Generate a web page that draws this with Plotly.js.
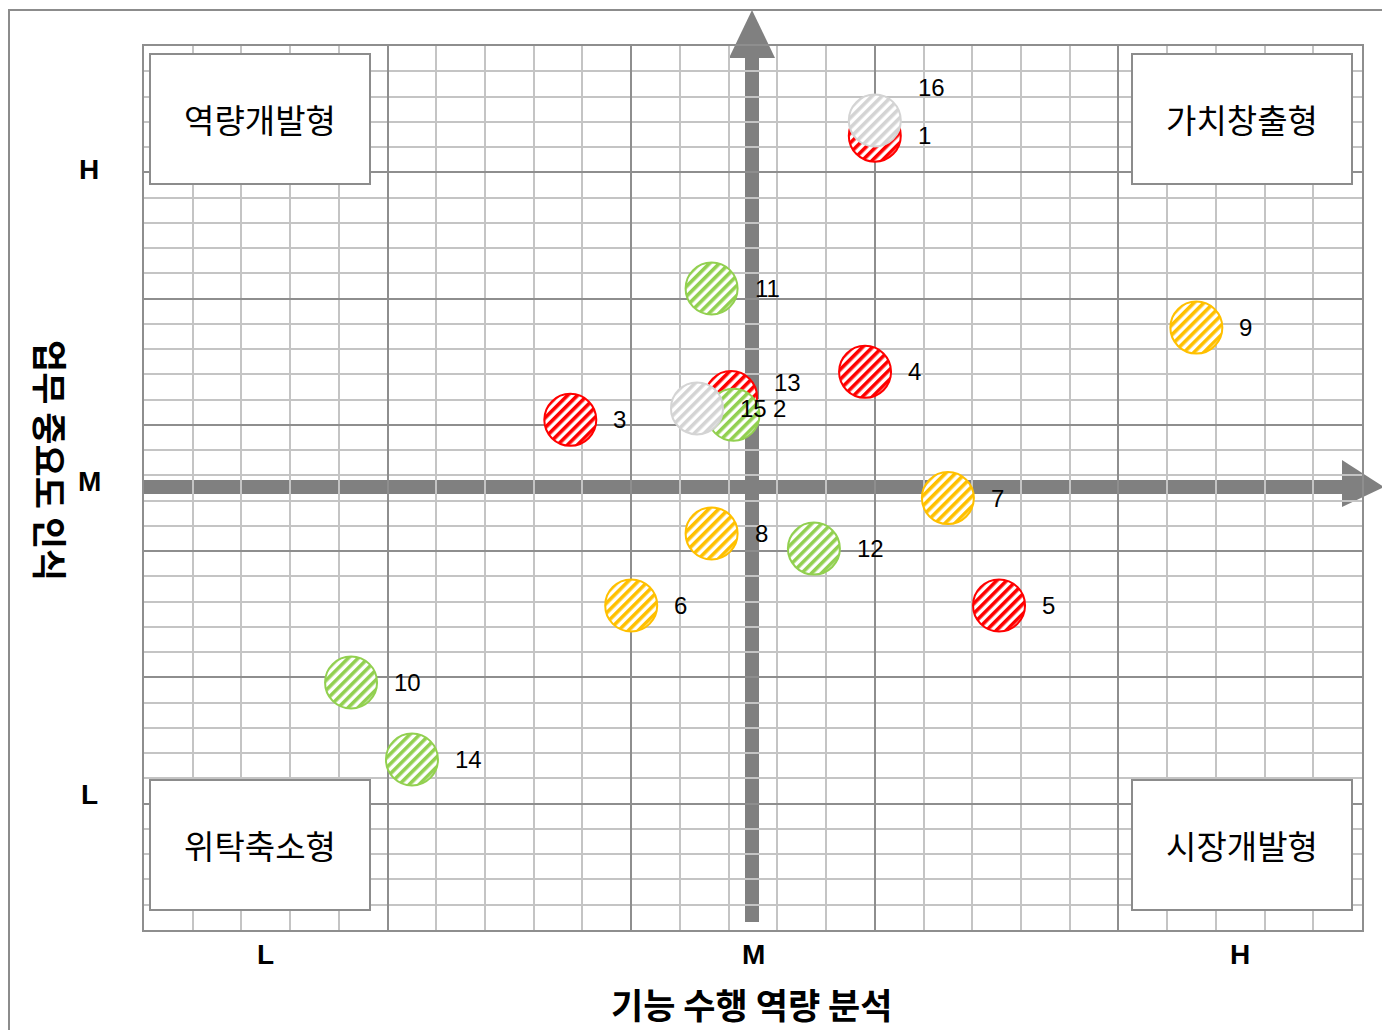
<!DOCTYPE html>
<html>
<head>
<meta charset="utf-8">
<script src="https://cdn.plot.ly/plotly-3.0.1.min.js"></script>
<style>
  html, body { margin: 0; padding: 0; background: #fff; }
  #chart { width: 1382px; height: 1030px; }
</style>
</head>
<body>
<div id="chart"></div>
<script>
// points, grouped by colour (drawn red, green, yellow, grey so grey ends on top)
var redIds = [1, 3, 4, 5, 13];
var redX   = [3.00, 1.75, 2.96, 3.51, 2.41];
var redY   = [6.29, 4.04, 4.42, 2.57, 4.22];

var greenIds = [2, 10, 11, 12, 14];
var greenX   = [2.42, 0.85, 2.33, 2.75, 1.10];
var greenY   = [4.08, 1.96, 5.08, 3.02, 1.35];

var yellowIds = [6, 7, 8, 9];
var yellowX   = [2.00, 3.30, 2.33, 4.32];
var yellowY   = [2.57, 3.42, 3.14, 4.77];

var greyIds = [15, 16];
var greyX   = [2.27, 3.00];
var greyY   = [4.13, 6.41];

// tick labels
var xTickVals = [0.5, 2.5, 4.5];
var xTickText = ['L', 'M', 'H'];
var yTickVals = [1.07, 3.55, 6.02];
var yTickText = ['L', 'M', 'H'];

var quadrantText = ['역량개발형', '가치창출형', '위탁축소형', '시장개발형'];
var xTitle = '기능 수행 역량 분석';
var yTitle = '업무 중요도 인식';

// some labels were nudged in the original to avoid overlaps (px)
var labelLift = {16: 33, 13: 15, 2: 6};
var labelPull = {2: 4};

var series = [
  {ids: redIds, x: redX, y: redY, color: '#FF0000'},
  {ids: greenIds, x: greenX, y: greenY, color: '#92D050'},
  {ids: yellowIds, x: yellowX, y: yellowY, color: '#FFC000'},
  {ids: greyIds, x: greyX, y: greyY, color: '#D4D4D4'}
];

var data = series.map(function(s) {
  return {
    x: s.x, y: s.y, mode: 'markers', type: 'scatter',
    marker: {size: 52, color: s.color, line: {color: s.color, width: 2}},
    hoverinfo: 'skip'
  };
});

// plot area in pixels: x 144..1362, y 46..930
var L = 144, T = 46, W = 1218, H = 884;
function px(x) { return (x - L) / W; }
function py(y) { return (T + H - y) / H; }

var annotations = [];
series.forEach(function(s) {
  s.ids.forEach(function(id, i) {
    annotations.push({
      x: s.x[i], y: s.y[i], xref: 'x', yref: 'y', text: String(id),
      showarrow: false, xanchor: 'left', yanchor: 'middle',
      xshift: 41 - (labelPull[id] || 0), yshift: labelLift[id] || 0,
      font: {family: 'Liberation Sans, Arial, sans-serif', size: 24, color: '#000'}
    });
  });
});

xTickVals.forEach(function(v, i) {
  annotations.push({
    x: v, y: py(955), xref: 'x', yref: 'paper', text: '<b>' + xTickText[i] + '</b>',
    showarrow: false, xanchor: 'center', yanchor: 'middle',
    font: {family: 'Liberation Sans, Arial, sans-serif', size: 28, color: '#000'}
  });
});
yTickVals.forEach(function(v, i) {
  annotations.push({
    x: px(89), y: v, xref: 'paper', yref: 'y', text: '<b>' + yTickText[i] + '</b>',
    showarrow: false, xanchor: 'center', yanchor: 'middle',
    font: {family: 'Liberation Sans, Arial, sans-serif', size: 28, color: '#000'}
  });
});

var boxPos = [[259.5, 118.5], [1241.5, 118.5], [259.5, 844.5], [1241.5, 844.5]];
quadrantText.forEach(function(t, i) {
  annotations.push({
    x: px(boxPos[i][0]), y: py(boxPos[i][1]), xref: 'paper', yref: 'paper',
    text: t, showarrow: false, xanchor: 'center', yanchor: 'middle',
    width: 218, height: 128, borderpad: 0, bgcolor: '#fff',
    bordercolor: '#8C8C8C', borderwidth: 2,
    font: {family: 'Noto Sans CJK KR, sans-serif', size: 33, color: '#000'}
  });
});

annotations.push({
  x: px(751), y: py(1004), xref: 'paper', yref: 'paper', text: '<b>' + xTitle + '</b>',
  showarrow: false, xanchor: 'center', yanchor: 'middle',
  font: {family: 'Noto Sans CJK KR, sans-serif', size: 35, color: '#000'}
});
annotations.push({
  x: px(52), y: py(460), xref: 'paper', yref: 'paper', text: '<b>' + yTitle + '</b>',
  showarrow: false, xanchor: 'center', yanchor: 'middle', textangle: 90,
  font: {family: 'Noto Sans CJK KR, sans-serif', size: 35, color: '#000'}
});

var arrowGrey = '#808080';
var shapes = [
  // vertical arrow
  {type: 'rect', xref: 'paper', yref: 'paper', layer: 'below',
   x0: px(745), x1: px(759), y0: py(922), y1: py(58),
   fillcolor: arrowGrey, line: {width: 0}},
  {type: 'path', xref: 'paper', yref: 'paper', layer: 'below',
   path: 'M' + px(729) + ',' + py(58) + ' L' + px(775) + ',' + py(58) + ' L' + px(752) + ',' + py(10) + ' Z',
   fillcolor: arrowGrey, line: {width: 0}},
  // horizontal arrow
  {type: 'rect', xref: 'paper', yref: 'paper', layer: 'below',
   x0: px(144), x1: px(1343), y0: py(494), y1: py(480),
   fillcolor: arrowGrey, line: {width: 0}},
  {type: 'path', xref: 'paper', yref: 'paper', layer: 'below',
   path: 'M' + px(1342) + ',' + py(460) + ' L' + px(1342) + ',' + py(507) + ' L' + px(1384) + ',' + py(487) + ' Z',
   fillcolor: arrowGrey, line: {width: 0}},
  // outer frame
  {type: 'rect', xref: 'paper', yref: 'paper', layer: 'above',
   x0: px(9), x1: px(1420), y0: py(1080), y1: py(10),
   line: {color: '#8C8C8C', width: 2}}
];

var layout = {
  width: 1382, height: 1030,
  margin: {l: L, r: 1382 - L - W, t: T, b: 1030 - T - H},
  paper_bgcolor: '#fff', plot_bgcolor: '#fff',
  showlegend: false,
  xaxis: {
    range: [0, 5], dtick: 1, tick0: 0, showticklabels: false, ticks: '',
    showgrid: true, gridcolor: '#8E8E8E', gridwidth: 2, zeroline: false,
    showline: true, mirror: true, linecolor: '#8E8E8E', linewidth: 2,
    minor: {dtick: 0.2, tick0: 0, showgrid: true, gridcolor: '#C4C4C4', gridwidth: 2, ticks: ''},
    fixedrange: true
  },
  yaxis: {
    range: [0, 7], dtick: 1, tick0: 0, showticklabels: false, ticks: '',
    showgrid: true, gridcolor: '#8E8E8E', gridwidth: 2, zeroline: false,
    showline: true, mirror: true, linecolor: '#8E8E8E', linewidth: 2,
    minor: {dtick: 0.2, tick0: 0, showgrid: true, gridcolor: '#C4C4C4', gridwidth: 2, ticks: ''},
    fixedrange: true
  },
  shapes: shapes,
  annotations: annotations
};

// diagonal hatch fills, added to the svg once plotly has drawn the markers
function addHatching(gd) {
  var NS = 'http://www.w3.org/2000/svg';
  var svg = gd.querySelector('svg.main-svg');
  var defs = svg.querySelector('defs');
  series.forEach(function(s, i) {
    var pat = document.createElementNS(NS, 'pattern');
    pat.setAttribute('id', 'hatch' + i);
    pat.setAttribute('patternUnits', 'userSpaceOnUse');
    pat.setAttribute('width', '7');
    pat.setAttribute('height', '7');
    pat.setAttribute('patternTransform', 'rotate(45)');
    var bg = document.createElementNS(NS, 'rect');
    bg.setAttribute('width', '7'); bg.setAttribute('height', '7'); bg.setAttribute('fill', '#fff');
    var st = document.createElementNS(NS, 'rect');
    st.setAttribute('width', '3.6'); st.setAttribute('height', '7'); st.setAttribute('fill', s.color);
    pat.appendChild(bg); pat.appendChild(st);
    defs.appendChild(pat);
  });
  var traces = gd.querySelectorAll('.scatterlayer .trace');
  traces.forEach(function(tr, i) {
    tr.querySelectorAll('path.point').forEach(function(p) {
      p.style.fill = 'url(#hatch' + i + ')';
    });
  });
}

Plotly.newPlot('chart', data, layout, {staticPlot: true}).then(addHatching);
</script>
</body>
</html>
